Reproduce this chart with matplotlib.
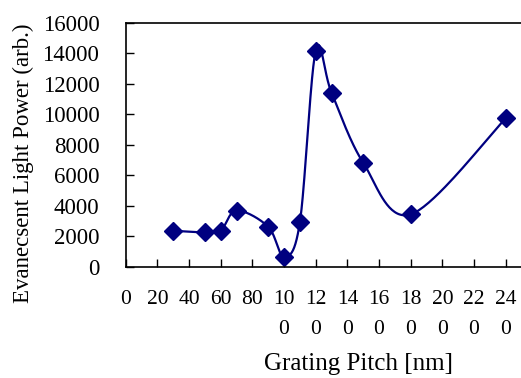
import numpy as np
import matplotlib.pyplot as plt

# grating pitch (nm) and measured evanescent light power
pitch = [30, 50, 60, 70, 90, 100, 110, 120, 130, 150, 180, 240]
power = [2360, 2250, 2360, 3680, 2620, 650, 2910, 14160, 11410, 6820, 3430, 9730]

x_ticks = list(range(0, 241, 20))
x_labels = ['0', '20', '40', '60', '80', '10\n0', '12\n0', '14\n0',
            '16\n0', '18\n0', '20\n0', '22\n0', '24\n0']
y_ticks = list(range(0, 16001, 2000))

plt.rcParams['font.family'] = ['Liberation Serif', 'DejaVu Serif']


def smooth_line(xs, ys, sx, sy, n=40):
    # Excel-like smoothed line: cubic bezier, control points from neighbours
    p = np.column_stack([np.asarray(xs, float) / sx, np.asarray(ys, float) / sy])
    ext = np.vstack([p[0], p, p[-1]])
    out = []
    t = np.linspace(0, 1, n)[:, None]
    for i in range(len(p) - 1):
        p0, p1, p2, p3 = ext[i], ext[i + 1], ext[i + 2], ext[i + 3]
        c1 = p1 + (p2 - p0) / 6
        c2 = p2 - (p3 - p1) / 6
        seg = ((1 - t) ** 3 * p1 + 3 * (1 - t) ** 2 * t * c1
               + 3 * (1 - t) * t ** 2 * c2 + t ** 3 * p2)
        out.append(seg)
    out = np.vstack(out)
    return out[:, 0] * sx, out[:, 1] * sy


fig = plt.figure(figsize=(5.21, 3.78), dpi=100)
ax = fig.add_axes([0.2413, 0.2945, 0.7597, 0.6455])

sx, sy = smooth_line(pitch, power, 250, 16000 * 0.64)
ax.plot(sx, sy, color='#000080', lw=1.6)
ax.plot(pitch, power, linestyle='none', marker='D', markersize=9,
        color='#000080')

ax.set_xlim(0, 250)
ax.set_ylim(0, 16000)
ax.set_xticks(x_ticks)
ax.set_xticklabels(x_labels, linespacing=1.75)
ax.set_yticks(y_ticks)
ax.tick_params(direction='in', length=6, width=1)
ax.tick_params(axis='x', pad=17, labelsize=15.5)
ax.tick_params(axis='y', pad=19, labelsize=16.5)
ax.spines['right'].set_visible(False)
for s in ['left', 'bottom', 'top']:
    ax.spines[s].set_linewidth(1.2)

fig.text(0.689, 0.036, 'Grating Pitch [nm]', ha='center', va='center',
         fontsize=18)
fig.text(0.044, 0.568, 'Evanecsent Light Power (arb.)', ha='center',
         va='center', rotation=90, fontsize=16.5)

fig.savefig('out.png', dpi=100)
